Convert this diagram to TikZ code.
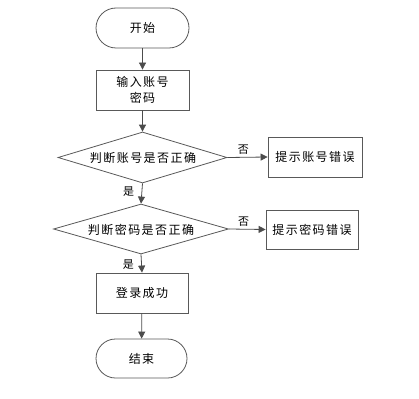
\documentclass[tikz,border=0pt]{standalone}
\usepackage{fontspec}
\setmainfont{Noto Sans CJK SC}[LetterSpace=12]
\usetikzlibrary{shapes.geometric,arrows.meta}
\begin{document}
\begin{tikzpicture}[x=1pt,y=-1pt,
  every node/.style={font=\fontsize{12pt}{16pt}\selectfont, text=black},
  boxshape/.style={draw=black!65, line width=0.8pt, rectangle, minimum width=93pt, minimum height=40pt, inner sep=0pt, align=center},
  termshape/.style={draw=black!65, line width=0.8pt, rectangle, rounded corners=20pt, minimum width=93pt, minimum height=40pt, inner sep=0pt},
  decshape/.style={draw=black!65, line width=0.8pt, diamond, aspect=3.3, inner sep=0pt},
  conn/.style={draw=black!70, line width=0.8pt, -{Triangle[length=7pt,width=7pt]}},
  lbl/.style={font=\fontsize{11pt}{12pt}\selectfont}
]
\useasboundingbox (0,0) rectangle (419,398);
\fill[white] (0,0) rectangle (419,398);
\node[termshape] (start) at (142.5,28) {开始};
\node[boxshape] (input) at (142.5,90) {输入账号\\密码};
\node[decshape, minimum width=169pt, minimum height=51pt] (d1) at (142.5,157.5) {};
\node at (143,158) (t1) {判断账号是否正确};
\node[boxshape, minimum width=94pt] (e1) at (315,157) {提示账号错误};
\node[decshape, minimum width=175pt, minimum height=50pt] (d2) at (141,229) {};
\node at (141,229.5) (t2) {判断密码是否正确};
\node[boxshape, minimum width=92pt, minimum height=39pt] (e2) at (312,229.5) {提示密码错误};
\node[boxshape, minimum width=92pt] (ok) at (142,293) {登录成功};
\node[termshape, minimum width=91pt, minimum height=39pt, rounded corners=19.5pt] (end) at (141.5,358.5) {结束};

\draw[conn] (start) -- (input);
\draw[conn] (input) -- (d1);
\draw[conn] (d1.east) -- (e1.west) node[lbl, pos=0.4, above, yshift=-1pt] {否};
\draw[conn] (d1.south) -- (d2.north) node[lbl, pos=0.4, left, xshift=-4pt] {是};
\draw[conn] (d2.east) -- (e2.west) node[lbl, pos=0.4, above, yshift=-1pt] {否};
\draw[conn] (d2.south) -- (ok.north) node[lbl, pos=0.55, left, xshift=-4pt] {是};
\draw[conn] (ok) -- (end);
\end{tikzpicture}
\end{document}
